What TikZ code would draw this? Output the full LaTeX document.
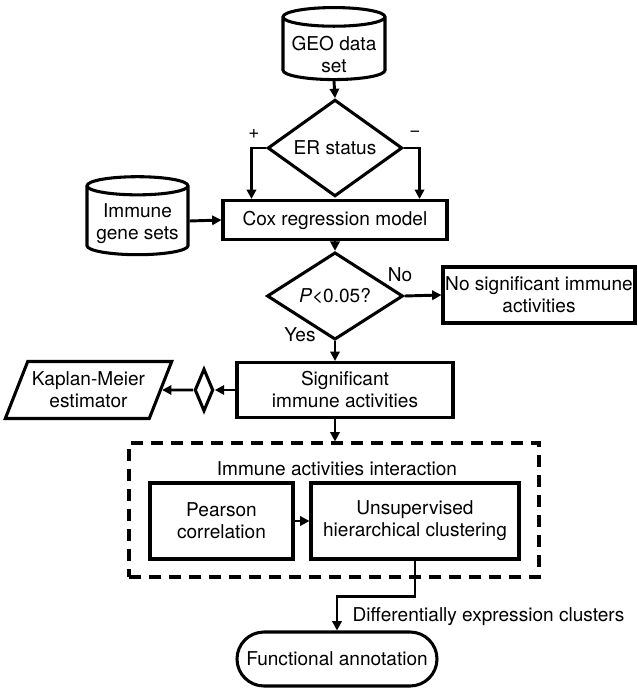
\documentclass[tikz,border=0pt]{standalone}
\usepackage{fontspec}
\setmainfont{TeX Gyre Heros}
\usetikzlibrary{shapes.geometric,shapes.misc,arrows.meta}

\begin{document}
\begin{tikzpicture}[x=0.75pt,y=0.75pt,yscale=-1,xscale=1,
  every node/.style={font=\fontsize{14.3}{16.5}\selectfont},
  box/.style={draw,line width=2.3pt,inner sep=0pt,align=center},
  decision/.style={draw,diamond,line width=2.3pt,inner sep=0pt},
  store/.style={draw,cylinder,shape border rotate=90,aspect=0.22,line width=2.3pt,inner sep=0pt,align=center},
  arr/.style={line width=2.2pt,-{Triangle[length=7pt,width=7pt]}}]

\useasboundingbox (0,0) rectangle (637,688);

\node[store,minimum width=76.5pt,minimum height=54pt] (geo) at (334,49) {\phantom{GEO data}\\\phantom{set}};

\node[align=center] (geotext) at (334,55) {GEO data\\set};

\node[decision,minimum width=101pt,minimum height=52.5pt] (er) at (335,148) {ER status};

\node[box,minimum width=168pt,minimum height=29.25pt] (cox) at (335,220) {Cox regression model};

\node[store,minimum width=75.75pt,minimum height=58.5pt] (genesets) at (137.5,221) {\phantom{Immune}\\\phantom{gene sets}};

\node[align=center] (genesetstext) at (137.5,224) {Immune\\gene sets};

\node[decision,minimum width=102pt,minimum height=53pt] (pval) at (335,296) {\textit{P}<0.05?};

\node[box,minimum width=144pt,minimum height=42pt] (nosig) at (539,295) {No significant immune\\activities};

\node[box,minimum width=162pt,minimum height=41.25pt] (sig) at (345,390) {Significant\\immune activities};

\node[draw,decision,minimum width=14pt,minimum height=32pt] (pick) at (204,390) {};

\node[box,trapezium,trapezium left angle=60,trapezium right angle=120,trapezium stretches=true,minimum width=125pt,minimum height=42.75pt] (km) at (88.5,390) {Kaplan-Meier\\estimator};

\node[draw,line width=2.3pt,dash pattern=on 9pt off 6pt,minimum width=307.5pt,minimum height=100.5pt] (inter) at (334,510) {};

\node (intertitle) at (337,469) {Immune activities interaction};

\node[box,minimum width=107.25pt,minimum height=57pt] (pearson) at (221.5,521) {Pearson\\correlation};

\node[box,minimum width=156pt,minimum height=57pt] (cluster) at (415,521) {Unsupervised\\hierarchical clustering};

\node[box,rounded rectangle,minimum width=150pt,minimum height=40.5pt] (annot) at (337,659) {Functional annotation};

\draw[arr] (geo.south) -- (er.north);

\draw[arr] (er.west) -| ([xshift=22.5pt]cox.north west);

\draw[arr] (er.east) -| ([xshift=-21.75pt]cox.north east);

\node (plus) at (254,134) {+};

\node (minus) at (415,134) {−};

\draw[arr] (genesets.east) -- (cox.west);

\draw[arr] (cox.south) -- (pval.north);

\draw[arr] (pval.east) -- (nosig.west);

\node (nolbl) at (400,275) {No};

\draw[arr] (pval.south) -- (pval.south |- sig.north);

\node (yeslbl) at (300,335) {Yes};

\draw[arr] (sig.west) -- (pick.east);

\draw[arr] (pick.west) -- (km.east);

\draw[arr] (sig.south -| pval.south) -- (pval.south |- inter.north);

\draw[arr] (pearson.east) -- (cluster.west);

\draw[arr] (cluster.south) -- ++(0,36) -| (annot.north);

\node[anchor=west] (clusterlbl) at (348,617) {Differentially expression clusters};

\end{tikzpicture}
\end{document}
